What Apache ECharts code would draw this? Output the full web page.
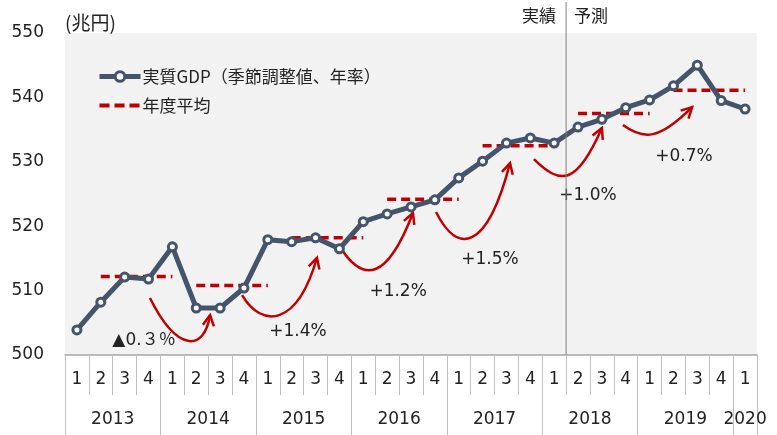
<!DOCTYPE html>
<html>
<head>
<meta charset="utf-8">
<script src="https://cdn.jsdelivr.net/npm/echarts@6/dist/echarts.min.js"></script>
<style>
  html, body { margin: 0; padding: 0; background: #fff; }
  #chart { width: 777px; height: 435px; }
</style>
</head>
<body>
<div id="chart"></div>
<script>
// Real GDP (seasonally adjusted, annualised), trillion yen, 2013Q1 - 2020Q1
const quarterLabels = ['1','2','3','4','1','2','3','4','1','2','3','4','1','2','3','4',
                       '1','2','3','4','1','2','3','4','1','2','3','4','1'];
const years = ['2013','2014','2015','2016','2017','2018','2019','2020'];
const gdp = [503.9, 508.2, 512.1, 511.8,
             516.8, 507.3, 507.3, 510.4,
             517.9, 517.6, 518.2, 516.5,
             520.7, 521.9, 523.0, 524.1,
             527.5, 530.1, 532.9, 533.7,
             532.9, 535.4, 536.6, 538.4,
             539.6, 541.8, 545.0, 539.5,
             538.2];
// Fiscal-year averages FY2013 - FY2019 (Apr - Mar)
const fyAverage = [512.2, 510.8, 518.2, 524.2, 532.5, 537.5, 541.1];
const growthLabels = ['▲0.３％', '+1.4%', '+1.2%', '+1.5%', '+1.0%', '+0.7%'];
const forecastFrom = 21;   // first forecast quarter (2018Q2), on the 0-29 quarter scale

// Annotation anchors, in data units (x: 0-29 quarter scale, y: trillion yen)
const arrowFrom = [[3.56, 508.85], [7.42, 509.3], [11.61, 516.3], [15.55, 522.2], [19.65, 530.4], [23.38, 535.7]];
const arrowTo   = [[6.08, 506.2], [10.56, 515.1], [14.58, 522.05], [18.65, 529.8], [22.5, 535.25], [26.28, 538.5]];
const arrowDip  = [502.2, 506.2, 513.35, 518.3, 527.95, 534.3];
const labelAt   = [[3.31, 502.3], [9.76, 503.6], [13.96, 509.8], [17.81, 514.75], [21.92, 524.7], [25.94, 530.75]];

// Curve shape of each arrow: [start lean, end lean]
const arrowBend = [[0.45, 0.1], [0.26, 0.27], [0.3, 0.37], [0.28, 0.32], [0.39, 0.37], [0.3, 0.48]];

const SLATE = '#44546A';
const RED = '#C00000';
const TEXT = '#222222';
const NUM_FONT = "'DejaVu Sans', 'Noto Sans CJK JP', sans-serif";
const JP_FONT = "'Noto Sans CJK JP', 'DejaVu Sans', sans-serif";
const GDP_NAME = '実質GDP（季節調整値、年率）';
const AVG_NAME = '年度平均';

// year label centres and year boundaries on the 0-29 scale
const yearBounds = [];
const yearCenters = [];
years.forEach((y, i) => {
  const start = i * 4;
  const end = Math.min(start + 4, quarterLabels.length);
  yearBounds.push(start);
  yearCenters.push((start + end) / 2);
});
yearBounds.push(quarterLabels.length);

const fySeries = fyAverage.map((v, k) => ({
  name: AVG_NAME,
  type: 'line',
  xAxisIndex: 0,
  yAxisIndex: 0,
  data: quarterLabels.map((q, i) => (i >= 1 + 4 * k && i <= 4 + 4 * k) ? v : null),
  symbol: 'none',
  connectNulls: false,
  lineStyle: { color: RED, width: 3.5, type: [9, 5] },
  itemStyle: { color: RED },
  z: 3,
  silent: true
}));

const arrowData = arrowFrom.map((f, i) => [f[0], f[1], arrowTo[i][0], arrowTo[i][1], arrowDip[i], labelAt[i][0], labelAt[i][1]]);

function drawArrow(params, api) {
  const i = params.dataIndex;
  const p0 = api.coord([api.value(0), api.value(1)]);
  const p3 = api.coord([api.value(2), api.value(3)]);
  const dipY = api.coord([api.value(0), api.value(4)])[1];
  const lp = api.coord([api.value(5), api.value(6)]);
  const a = arrowBend[i][0], s = arrowBend[i][1];
  const c = (8 * dipY - p0[1] - p3[1]) / 6;
  const dx = p3[0] - p0[0];
  const p1 = [p0[0] + a * dx, c];
  const p2 = [p3[0] - s * dx, c];
  const ang = Math.atan2(p3[1] - p2[1], p3[0] - p2[0]);
  const len = 12, spread = Math.PI / 6.5;
  const w1 = [p3[0] - len * Math.cos(ang - spread), p3[1] - len * Math.sin(ang - spread)];
  const w2 = [p3[0] - len * Math.cos(ang + spread), p3[1] - len * Math.sin(ang + spread)];
  return {
    type: 'group',
    children: [
      { type: 'bezierCurve',
        shape: { x1: p0[0], y1: p0[1], cpx1: p1[0], cpy1: p1[1], cpx2: p2[0], cpy2: p2[1], x2: p3[0], y2: p3[1] },
        style: { stroke: RED, lineWidth: 2.5, fill: null } },
      { type: 'polyline',
        shape: { points: [w1, p3, w2] },
        style: { stroke: RED, lineWidth: 2.5, fill: null, lineJoin: 'miter' } },
      { type: 'text',
        style: { text: growthLabels[i], x: lp[0], y: lp[1], align: 'center', verticalAlign: 'middle',
                 fontSize: 17, fontFamily: NUM_FONT, fill: TEXT } }
    ]
  };
}

const chart = echarts.init(document.getElementById('chart'), null, { renderer: 'canvas' });

const option = {
  animation: false,
  backgroundColor: '#ffffff',
  grid: {
    left: 65, right: 20, top: 33, bottom: 80,
    show: true, backgroundColor: '#F2F2F2', borderWidth: 0
  },
  legend: {
    data: [
      { name: GDP_NAME, lineStyle: { width: 5, color: SLATE },
        itemStyle: { color: '#ffffff', borderColor: SLATE, borderWidth: 3 } },
      { name: AVG_NAME, lineStyle: { width: 4, color: RED, type: [10, 5] },
        itemStyle: { opacity: 0 } }
    ],
    orient: 'vertical',
    left: 92,
    top: 63,
    itemWidth: 41,
    itemHeight: 12,
    itemGap: 12,
    selectedMode: false,
    textStyle: { fontSize: 17, fontFamily: JP_FONT, color: TEXT, padding: [0, 0, 0, -3] }
  },
  xAxis: [
    {
      type: 'category',
      position: 'bottom',
      data: quarterLabels,
      boundaryGap: true,
      axisLine: { show: true, lineStyle: { color: '#A6A6A6', width: 1.5 } },
      axisTick: { show: true, interval: 0, length: 40, lineStyle: { color: '#BFBFBF', width: 1 } },
      axisLabel: { interval: 0, margin: 16, fontSize: 17, fontFamily: NUM_FONT, color: TEXT },
      splitLine: { show: false }
    },
    {
      type: 'value',
      position: 'bottom',
      min: 0,
      max: quarterLabels.length,
      axisLine: { show: false },
      axisTick: { show: true, customValues: yearBounds, length: 85, lineStyle: { color: '#BFBFBF', width: 1 } },
      axisLabel: {
        customValues: yearCenters,
        margin: 56,
        fontSize: 17,
        fontFamily: NUM_FONT,
        color: TEXT,
        formatter: (v) => {
          const k = yearCenters.indexOf(v);
          return k >= 0 ? years[k] : '';
        }
      },
      splitLine: { show: false }
    }
  ],
  yAxis: {
    type: 'value',
    min: 500,
    max: 550,
    interval: 10,
    name: '(兆円)',
    nameLocation: 'end',
    nameGap: 1,
    nameTextStyle: { align: 'left', fontSize: 19, fontFamily: JP_FONT, color: TEXT },
    axisLine: { show: false },
    axisTick: { show: false },
    splitLine: { show: false },
    axisLabel: { margin: 21, fontSize: 17, fontFamily: NUM_FONT, color: TEXT }
  },
  series: [
    ...fySeries,
    {
      name: 'growth',
      type: 'custom',
      xAxisIndex: 1,
      yAxisIndex: 0,
      data: arrowData,
      renderItem: drawArrow,
      silent: true,
      z: 2
    },
    {
      name: GDP_NAME,
      type: 'line',
      xAxisIndex: 0,
      yAxisIndex: 0,
      data: gdp,
      symbol: 'circle',
      symbolSize: 8,
      color: SLATE,
      lineStyle: { color: SLATE, width: 5 },
      itemStyle: { color: '#ffffff', borderColor: SLATE, borderWidth: 3 },
      z: 5,
      silent: true
    }
  ]
};

chart.setOption(option);

// Actual / forecast divider drawn across the full height above the axis
const divX = chart.convertToPixel({ xAxisIndex: 1 }, forecastFrom);
const baseY = chart.convertToPixel({ yAxisIndex: 0 }, 500);
chart.setOption({
  graphic: [
    { type: 'line', shape: { x1: divX, y1: 2, x2: divX, y2: baseY }, style: { stroke: '#808080', lineWidth: 1 }, z: 10 },
    { type: 'text', style: { text: '実績', x: divX - 10, y: 16, align: 'right', verticalAlign: 'middle', fontSize: 17, fontFamily: JP_FONT, fill: TEXT } },
    { type: 'text', style: { text: '予測', x: divX + 8, y: 16, align: 'left', verticalAlign: 'middle', fontSize: 17, fontFamily: JP_FONT, fill: TEXT } }
  ]
});
</script>
</body>
</html>
